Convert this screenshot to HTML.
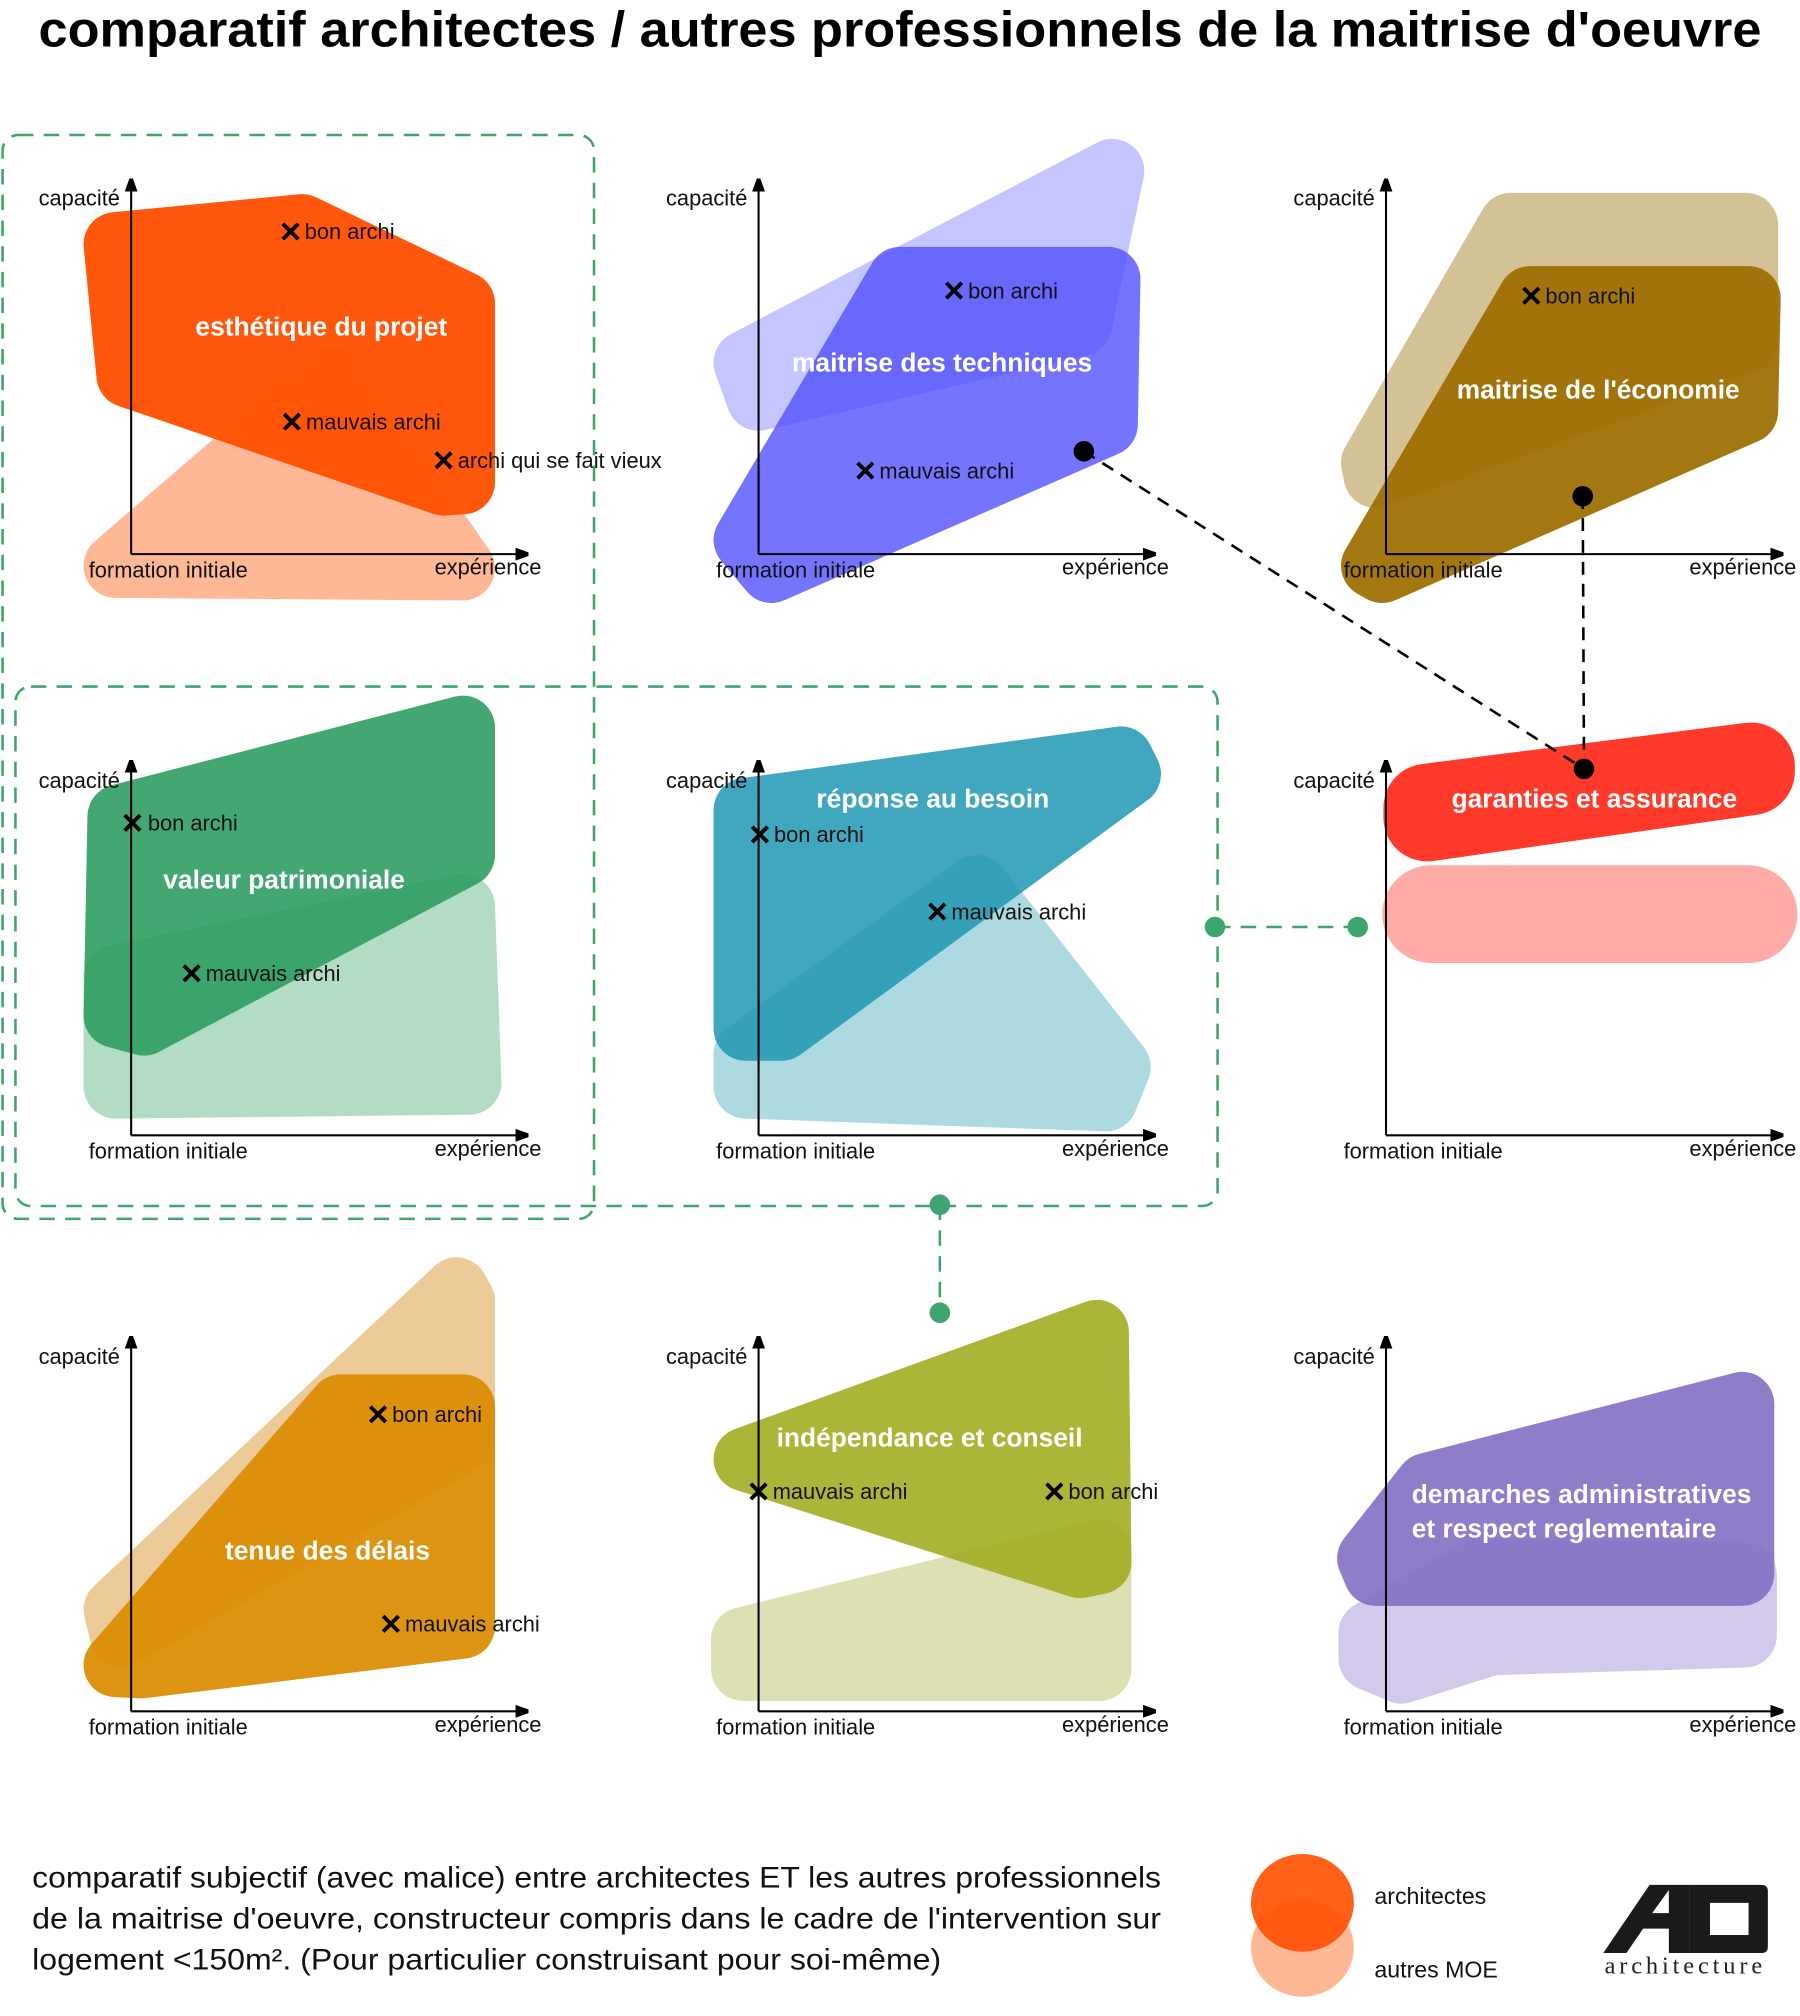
<!DOCTYPE html>
<html><head><meta charset="utf-8"><style>
html,body{margin:0;padding:0;background:#fff;}
svg{display:block;}
text{font-family:"Liberation Sans",sans-serif;}
.l{font-size:17px;fill:#111;}
.t{font-size:20.5px;font-weight:bold;fill:#fff;}
.x{stroke:#000;stroke-width:3;}
</style></head><body>
<svg width="1800" height="2016" viewBox="0 0 1400 1568" xmlns="http://www.w3.org/2000/svg">
<defs>
<marker id="ar" markerWidth="10" markerHeight="10" refX="9" refY="5" orient="auto" markerUnits="userSpaceOnUse"><path d="M0,0 L14,5 L0,10 z" fill="#000"/></marker>
<g id="X"><line x1="-6" y1="-6" x2="6" y2="6" class="x"/><line x1="-6" y1="6" x2="6" y2="-6" class="x"/></g>
</defs>
<text x="30" y="36" textLength="1340" lengthAdjust="spacingAndGlyphs" style="font-size:39px;font-weight:bold;fill:#000">comparatif architectes / autres professionnels de la maitrise d'oeuvre</text>

<!-- panel 1 -->
<g stroke-linejoin="round" stroke-width="50">
<polygon points="258,295 90,440 360,442" fill="#FFB896" stroke="#FFB896"/>
<g opacity="0.95"><polygon points="90,190 235,176 360,236 360,375 345,376 100,292" fill="#FF5000" stroke="#FF5000"/></g>
</g>
<!-- panel 2 -->
<g stroke-linejoin="round" stroke-width="50">
<polygon points="580,282 865,133 840,252 590,310" fill="#C5C5FF" stroke="#C5C5FF"/>
<g opacity="0.8"><polygon points="580,420 700,217 862,217 860,330 600,444" fill="#5252FF" stroke="#5252FF"/></g>
</g>
<!-- panel 3 -->
<g stroke-linejoin="round" stroke-width="50">
<polygon points="1068,360 1175,175 1358,175 1358,265 1070,370" fill="#D4C297" stroke="#D4C297"/>
<g opacity="0.93"><polygon points="1068,440 1190,232 1360,232 1358,320 1075,444" fill="#9E6E00" stroke="#9E6E00"/></g>
</g>
<!-- panel 4 -->
<g stroke-linejoin="round" stroke-width="50">
<polygon points="90,845 90,760 360,705 365,842" fill="#B3DCC5" stroke="#B3DCC5"/>
<g opacity="0.9"><polygon points="90,790 93,635 360,566 360,665 112,796" fill="#2E9E62" stroke="#2E9E62"/></g>
</g>
<!-- panel 5 -->
<g stroke-linejoin="round" stroke-width="50">
<polygon points="580,845 580,820 760,690 870,830 860,855" fill="#ADDAE0" stroke="#ADDAE0"/>
<g opacity="0.85"><polygon points="580,800 580,630 872,590 878,602 608,800" fill="#1F98B3" stroke="#1F98B3"/></g>
</g>
<!-- panel 6 -->
<g stroke-linejoin="round">
<rect x="1075" y="673" width="323" height="76" rx="38" fill="#FFACA8"/>
<polygon points="1110,628 1362,596 1362,600 1110,636" fill="#FF3A2A" stroke="#FF3A2A" stroke-width="68"/>
</g>
<!-- panel 7 -->
<g stroke-linejoin="round" stroke-width="50">
<polygon points="90,1252 355,1003 360,1012 360,1120 95,1272" fill="#ECCB98" stroke="#ECCB98"/>
<g opacity="0.92"><polygon points="90,1295 265,1094 360,1094 360,1265 110,1296" fill="#DC8C00" stroke="#DC8C00"/></g>
</g>
<!-- panel 8 -->
<g stroke-linejoin="round" stroke-width="50">
<polygon points="578,1275 855,1207 855,1298 578,1298" fill="#DDE0B3" stroke="#DDE0B3"/>
<g opacity="0.9"><polygon points="580,1135 853,1036 855,1215 840,1218" fill="#A3AD22" stroke="#A3AD22"/></g>
</g>
<!-- panel 9 -->
<g stroke-linejoin="round" stroke-width="50">
<polygon points="1066,1290 1066,1270 1150,1222 1357,1225 1357,1272 1160,1278 1090,1300" fill="#D3CAEB" stroke="#D3CAEB"/>
<g opacity="0.9"><polygon points="1065,1212 1110,1155 1355,1092 1355,1224 1070,1224" fill="#8370C5" stroke="#8370C5"/></g>
</g>

<!-- axes -->
<g stroke="#000" stroke-width="1.6" fill="none" marker-end="url(#ar)">
<path d="M102,431 L102,140"/><path d="M102,431 L410,431"/>
<path d="M590,431 L590,140"/><path d="M590,431 L898,431"/>
<path d="M1078,431 L1078,140"/><path d="M1078,431 L1386,431"/>
<path d="M102,883 L102,592"/><path d="M102,883 L410,883"/>
<path d="M590,883 L590,592"/><path d="M590,883 L898,883"/>
<path d="M1078,883 L1078,592"/><path d="M1078,883 L1386,883"/>
<path d="M102,1331 L102,1040"/><path d="M102,1331 L410,1331"/>
<path d="M590,1331 L590,1040"/><path d="M590,1331 L898,1331"/>
<path d="M1078,1331 L1078,1040"/><path d="M1078,1331 L1386,1331"/>
</g>
<g class="l">
<text x="30" y="160" class="l">capacité</text><text x="69" y="449" class="l">formation initiale</text><text x="338" y="447" class="l">expérience</text>
<text x="518" y="160" class="l">capacité</text><text x="557" y="449" class="l">formation initiale</text><text x="826" y="447" class="l">expérience</text>
<text x="1006" y="160" class="l">capacité</text><text x="1045" y="449" class="l">formation initiale</text><text x="1314" y="447" class="l">expérience</text>
<text x="30" y="613" class="l">capacité</text><text x="69" y="901" class="l">formation initiale</text><text x="338" y="899" class="l">expérience</text>
<text x="518" y="613" class="l">capacité</text><text x="557" y="901" class="l">formation initiale</text><text x="826" y="899" class="l">expérience</text>
<text x="1006" y="613" class="l">capacité</text><text x="1045" y="901" class="l">formation initiale</text><text x="1314" y="899" class="l">expérience</text>
<text x="30" y="1061" class="l">capacité</text><text x="69" y="1349" class="l">formation initiale</text><text x="338" y="1347" class="l">expérience</text>
<text x="518" y="1061" class="l">capacité</text><text x="557" y="1349" class="l">formation initiale</text><text x="826" y="1347" class="l">expérience</text>
<text x="1006" y="1061" class="l">capacité</text><text x="1045" y="1349" class="l">formation initiale</text><text x="1314" y="1347" class="l">expérience</text>
</g>

<!-- titles -->
<text x="152" y="261" class="t">esthétique du projet</text>
<text x="616" y="289" class="t">maitrise des techniques</text>
<text x="1133" y="310" class="t">maitrise de l'économie</text>
<text x="127" y="691" class="t">valeur patrimoniale</text>
<text x="635" y="628" class="t">réponse au besoin</text>
<text x="1129" y="628" class="t">garanties et assurance</text>
<text x="175" y="1213" class="t">tenue des délais</text>
<text x="604" y="1125" class="t">indépendance et conseil</text>
<text x="1098" y="1169" class="t">demarches administratives</text>
<text x="1098" y="1196" class="t">et respect reglementaire</text>

<!-- markers -->
<g class="l">
<use href="#X" x="226" y="180"/><text x="237" y="186">bon archi</text>
<use href="#X" x="227" y="328"/><text x="238" y="334">mauvais archi</text>
<use href="#X" x="345" y="358"/><text x="356" y="364">archi qui se fait vieux</text>
<use href="#X" x="742" y="226"/><text x="753" y="232">bon archi</text>
<use href="#X" x="673" y="366"/><text x="684" y="372">mauvais archi</text>
<use href="#X" x="1191" y="230"/><text x="1202" y="236">bon archi</text>
<use href="#X" x="103" y="640"/><text x="115" y="646">bon archi</text>
<use href="#X" x="149" y="757"/><text x="160" y="763">mauvais archi</text>
<use href="#X" x="591" y="649"/><text x="602" y="655">bon archi</text>
<use href="#X" x="729" y="709"/><text x="740" y="715">mauvais archi</text>
<use href="#X" x="294" y="1100"/><text x="305" y="1106">bon archi</text>
<use href="#X" x="304" y="1263"/><text x="315" y="1269">mauvais archi</text>
<use href="#X" x="590" y="1160"/><text x="601" y="1166">mauvais archi</text>
<use href="#X" x="820" y="1160"/><text x="831" y="1166">bon archi</text>
</g>

<!-- dashed connectors -->
<g fill="none" stroke="#3DA56E" stroke-width="2" stroke-dasharray="12,8">
<rect x="2" y="105" width="460" height="843" rx="12"/>
<rect x="12" y="534" width="935" height="404" rx="12"/>
<line x1="945" y1="721" x2="1056" y2="721"/>
<line x1="731" y1="937" x2="731" y2="1021"/>
</g>
<g fill="#3DA56E"><circle cx="945" cy="721" r="8"/><circle cx="1056" cy="721" r="8"/><circle cx="731" cy="937" r="8"/><circle cx="731" cy="1021" r="8"/></g>
<g fill="none" stroke="#000" stroke-width="2" stroke-dasharray="10,7">
<line x1="843" y1="351" x2="1232" y2="598"/><line x1="1231" y1="386" x2="1232" y2="598"/>
</g>
<g fill="#000"><circle cx="843" cy="351" r="8"/><circle cx="1231" cy="386" r="8"/><circle cx="1232" cy="598" r="8"/></g>

<!-- footer -->
<g style="font-size:23px;fill:#111">
<text x="25" y="1468" textLength="878" lengthAdjust="spacingAndGlyphs">comparatif subjectif (avec malice) entre architectes ET les autres professionnels</text>
<text x="25" y="1500" textLength="878" lengthAdjust="spacingAndGlyphs">de la maitrise d'oeuvre, constructeur compris dans le cadre de l'intervention sur</text>
<text x="25" y="1532" textLength="707" lengthAdjust="spacingAndGlyphs">logement &lt;150m². (Pour particulier construisant pour soi-même)</text>
</g>
<ellipse cx="1013" cy="1515" rx="40" ry="38" fill="#FFB896"/>
<ellipse cx="1013" cy="1480" rx="40" ry="38" fill="#FF5000" opacity="0.9"/>
<text x="1069" y="1481" style="font-size:18px;fill:#111">architectes</text>
<text x="1069" y="1538" style="font-size:18px;fill:#111">autres MOE</text>
<!-- logo -->
<polygon points="1247,1519 1283,1466 1314,1466 1314,1519 1298,1519 1298,1500 1278,1500 1265,1519" fill="#1a1a1a"/>
<polygon points="1285,1488 1298,1488 1298,1470" fill="#fff"/>
<path d="M1314,1466 L1370,1466 Q1375,1466 1375,1471 L1375,1514 Q1375,1519 1370,1519 L1314,1519 Z M1330,1480 L1330,1505 L1360,1505 L1360,1480 Z" fill="#1a1a1a" fill-rule="evenodd"/>
<text x="1248" y="1535" style="font-family:'Liberation Serif',serif;font-size:19px;letter-spacing:3px;fill:#222">architecture</text>
</svg>
</body></html>
